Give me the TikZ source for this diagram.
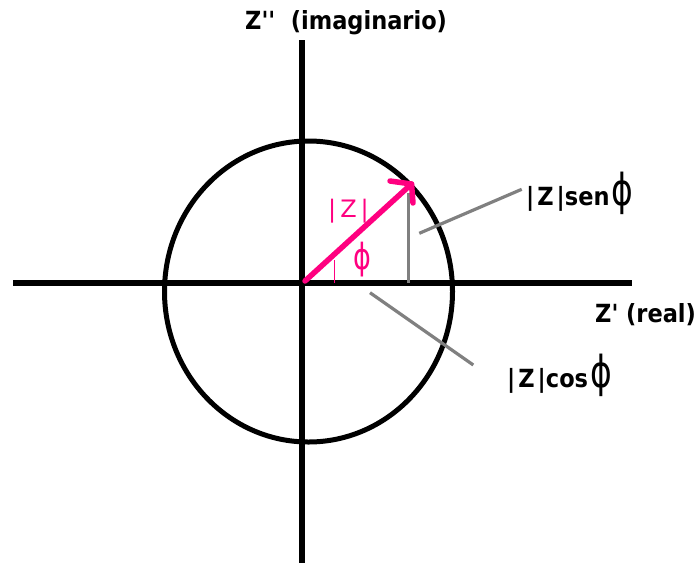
\documentclass[tikz,border=0pt]{standalone}
\usepackage{fontspec}
\setmainfont{DejaVu Sans Condensed}[Ligatures=TeXOff]
\newfontfamily\phifont{DejaVu Sans}
\newfontfamily\pinkfont{DejaVu Sans}
\definecolor{zpink}{RGB}{255,0,128}
\definecolor{zgray}{RGB}{128,128,128}
\newcommand{\myphi}[1]{{\phifont\mdseries\fontsize{#1}{#1}\selectfont\scalebox{0.75}[1]{ϕ}}}
\begin{document}
\begin{tikzpicture}[x=1pt,y=-1pt,
  axis/.style={line width=6.5pt,black},
  ring/.style={line width=5pt,black},
  vec/.style={line width=5.5pt,zpink,line cap=round,line join=round},
  leader/.style={line width=3.2pt,zgray},
  lbl/.style={font=\bfseries\fontsize{25}{25}\selectfont,inner sep=0pt,anchor=base west}]
\useasboundingbox (0,0) rectangle (700,563);
% axes
\coordinate (xl) at (13,283);
\coordinate (xr) at (632,283);
\coordinate (yt) at (302,40);
\coordinate (yb) at (302,563);
\coordinate (O) at (302,283);
\draw[axis] (xl) -- (xr);
\draw[axis] (yt) -- (yb);
% circle
\coordinate (C) at (308.5,291.5);
\draw[ring] (C) ellipse [x radius=144, y radius=150.5];
% projection
\coordinate (P) at (408.5,193);
\coordinate (Pf) at (408.5,283);
\draw[leader] (P) -- (Pf);
% vector
\coordinate (V0) at (305,281);
\coordinate (V1) at (411.5,184);
\coordinate (Ha) at (390,181);
\coordinate (Hb) at (413,203);
\draw[vec] (V0) -- (V1);
\draw[vec] (Ha) -- (V1) -- (Hb);
% angle tick
\coordinate (T0) at (334.3,260);
\coordinate (T1) at (334.3,283);
\draw[zpink,line width=1.5pt] (T0) -- (T1);
\node[inner sep=0pt,text=zpink,anchor=center] (phi) at (362.5,260) {\myphi{36}};
\node[inner sep=0pt,text=zpink,anchor=base west,font=\pinkfont\fontsize{24}{24}\selectfont] (zl) at (328,217) {|\,Z\,|};
% leaders
\coordinate (S0) at (419.3,233.3);
\coordinate (S1) at (521.7,189.3);
\coordinate (K0) at (370,292.7);
\coordinate (K1) at (473.3,365);
\draw[leader] (S0) -- (S1);
\draw[leader] (K0) -- (K1);
% labels
\node[lbl] (title) at (245,29) {Z''\ \ (imaginario)};
\node[lbl] (real) at (595,322) {Z' (real)};
\node[lbl] (sen) at (526,205) {|\kern3ptZ\kern3pt|sen\kern2pt\myphi{44}};
\node[lbl] (cos) at (507,387) {|\kern3ptZ\kern3pt|cos\kern2pt\myphi{44}};
\end{tikzpicture}
\end{document}
